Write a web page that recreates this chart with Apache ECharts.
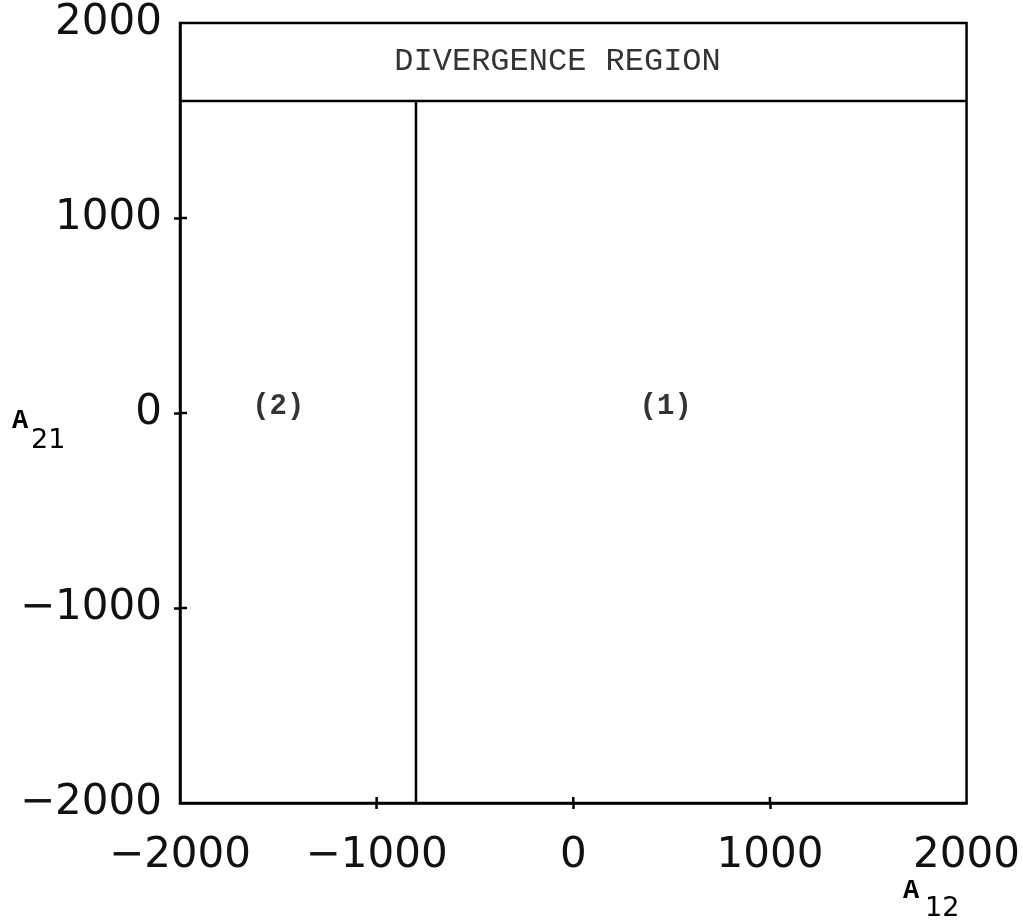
<!DOCTYPE html>
<html>
<head>
<meta charset="utf-8">
<script src="https://cdn.jsdelivr.net/npm/echarts@6/dist/echarts.min.js"></script>
<style>
html,body{margin:0;padding:0;background:#fff;}
#chart{width:1023px;height:924px;}
</style>
</head>
<body>
<div id="chart"></div>
<script>
// ---- data ----
const xTicks = [-2000, -1000, 0, 1000, 2000];
const yTicks = [-2000, -1000, 0, 1000, 2000];
const innerTicks = [-1000, 0, 1000];
const xRange = [-2000, 2000];
const yRange = [-2000, 2000];
const divergenceBoundaryY = 1600;       // lower edge of divergence region
const regionBoundaryX = -800;           // boundary between region (2) and (1)
const regionLabelNames = ['(2)', '(1)'];
const regionLabelX = [-1500, 470];
const regionLabelY = [30, 30];
const divergenceLabel = 'DIVERGENCE REGION';
const divergenceLabelPos = [-80, 1800];
const xAxisTitle = ['A', '12'];
const yAxisTitle = ['A', '21'];

const fmt = v => (v < 0 ? '\u2212' + Math.abs(v) : String(v));

const chart = echarts.init(document.getElementById('chart'), null, {renderer: 'canvas'});

const labelFont = {fontFamily: 'DejaVu Sans', fontSize: 42, color: '#111'};
const lineStyle = {color: '#000', width: 2.5};
const tickIn = 6;

// tick crossings on the inner side of each axis, placed via the axis scales
const innerTickData = innerTicks.map(v => ['x', v]).concat(innerTicks.map(v => ['y', v]));

const option = {
  backgroundColor: '#fff',
  animation: false,
  grid: {left: 180, right: 51, top: 23, bottom: 121, show: true, borderColor: '#000', borderWidth: 2.5, backgroundColor: 'transparent'},
  xAxis: {
    type: 'value', min: xRange[0], max: xRange[1], interval: 1000, position: 'bottom',
    axisLine: {show: true, onZero: false, lineStyle: lineStyle},
    splitLine: {show: false},
    axisTick: {show: true, inside: false, length: 6, lineStyle: lineStyle, customValues: innerTicks},
    axisLabel: Object.assign({margin: 32, customValues: xTicks, formatter: fmt}, labelFont)
  },
  yAxis: {
    type: 'value', min: yRange[0], max: yRange[1], interval: 1000, position: 'left',
    axisLine: {show: true, onZero: false, lineStyle: lineStyle},
    splitLine: {show: false},
    axisTick: {show: true, inside: false, length: 6, lineStyle: lineStyle, customValues: innerTicks},
    axisLabel: Object.assign({margin: 18, customValues: yTicks, formatter: fmt}, labelFont)
  },
  series: [
    {
      type: 'line', symbol: 'none', silent: true,
      lineStyle: lineStyle,
      data: [[xRange[0], divergenceBoundaryY], [xRange[1], divergenceBoundaryY]]
    },
    {
      type: 'line', symbol: 'none', silent: true,
      lineStyle: lineStyle,
      data: [[regionBoundaryX, yRange[0]], [regionBoundaryX, divergenceBoundaryY]]
    },
    {
      type: 'custom', silent: true,
      data: innerTickData.map(d => [d[0] === 'x' ? d[1] : xRange[0], d[0] === 'y' ? d[1] : yRange[0], d[0] === 'x' ? 0 : 1]),
      encode: {x: 0, y: 1},
      renderItem: function (params, api) {
        const p = api.coord([api.value(0), api.value(1)]);
        const isX = api.value(2) === 0;
        const shape = isX
          ? {x1: p[0], y1: p[1], x2: p[0], y2: p[1] - tickIn}
          : {x1: p[0], y1: p[1], x2: p[0] + tickIn + 1, y2: p[1]};
        return {type: 'line', shape: shape, style: {stroke: '#000', lineWidth: 2.5}};
      }
    },
    {
      type: 'scatter', symbolSize: 0, silent: true,
      data: regionLabelNames.map((n, i) => ({name: n, value: [regionLabelX[i], regionLabelY[i]]})),
      label: {
        show: true, position: 'inside', formatter: p => p.name,
        fontFamily: 'Liberation Mono', fontWeight: 'bold', fontSize: 29, color: '#000'
      }
    },
    {
      type: 'scatter', symbolSize: 0, silent: true,
      data: [{name: divergenceLabel, value: divergenceLabelPos}],
      label: {
        show: true, position: 'inside', formatter: p => p.name,
        fontFamily: 'Liberation Mono', fontSize: 32, color: '#000'
      }
    }
  ],
  graphic: [
    {type: 'text', left: 12, top: 408, style: {text: yAxisTitle[0], font: 'bold 27px "Liberation Mono"', fill: '#000'}},
    {type: 'text', left: 31, top: 427, style: {text: yAxisTitle[1], font: '27px "DejaVu Sans"', fill: '#000'}},
    {type: 'text', left: 903, top: 878, style: {text: xAxisTitle[0], font: 'bold 27px "Liberation Mono"', fill: '#000'}},
    {type: 'text', left: 925, top: 895, style: {text: xAxisTitle[1], font: '27px "DejaVu Sans"', fill: '#000'}}
  ]
};
chart.setOption(option);
</script>
</body>
</html>
